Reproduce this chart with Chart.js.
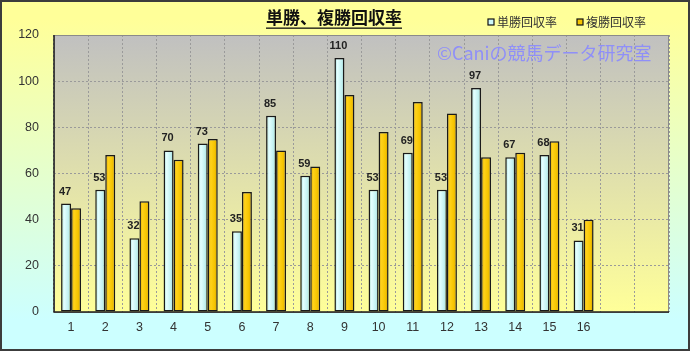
<!DOCTYPE html>
<html>
<head>
<meta charset="utf-8">
<script src="https://cdn.jsdelivr.net/npm/chart.js@4"></script>
<style>
    html, body { margin: 0; padding: 0; background: #fff; }
    .chart-box { width: 690px; height: 351px; position: relative; }
</style>
</head>
<body>
<div class="chart-box">
    <canvas id="kaishu-chart" width="690" height="351"></canvas>
</div>
<script>

// データ
const categories = ['1', '2', '3', '4', '5', '6', '7', '8', '9', '10', '11', '12', '13', '14', '15', '16', '', ''];
const tanshoValues = [47, 53, 32, 70, 73, 35, 85, 59, 110, 53, 69, 53, 97, 67, 68, 31];
const fukushoValues = [45, 68, 48, 66, 75, 52, 70, 63, 94, 78, 91, 86, 67, 69, 74, 40];
const yTicks = [0, 20, 40, 60, 80, 100, 120];
const seriesNames = ['単勝回収率', '複勝回収率'];
const chartTitle = '単勝、複勝回収率';
const watermark = '©Caniの競馬データ研究室';

const jpFont = '"Noto Sans CJK JP", "Noto Sans", sans-serif',
    numFont = '"Liberation Sans", Arial, sans-serif';

const ctx = document.querySelector('#kaishu-chart');

// 背景、枠、タイトル、凡例、ラベル
const decorPlugin = {
    id: 'decor',
    beforeDraw(chart) {
        const c = chart.ctx,
            area = chart.chartArea;

        let bg = c.createLinearGradient(0, 20, 0, 320);
        bg.addColorStop(0, '#ffff99');
        bg.addColorStop(1, '#ccffff');
        c.save();
        c.fillStyle = bg;
        c.fillRect(0, 0, chart.width, chart.height);

        let plotBg = c.createLinearGradient(0, area.top, 0, area.bottom);
        plotBg.addColorStop(0, '#c0c0c0');
        plotBg.addColorStop(1, '#ffff99');
        c.fillStyle = plotBg;
        c.fillRect(area.left, area.top, area.right - area.left, area.bottom - area.top);
        c.restore();
    },
    beforeDatasetsDraw(chart) {
        const c = chart.ctx,
            area = chart.chartArea;

        c.save();
        c.strokeStyle = '#8a8a8a';
        c.lineWidth = 1;
        c.strokeRect(area.left + 0.5, area.top + 0.5, area.right - area.left - 1, area.bottom - area.top);

        // 軸線
        c.strokeStyle = '#222';
        c.lineWidth = 1.5;
        c.beginPath();
        c.moveTo(area.left, area.top);
        c.lineTo(area.left, area.bottom);
        c.lineTo(area.right, area.bottom);
        c.stroke();

        // 透かし文字
        c.font = '18px ' + jpFont;
        c.fillStyle = '#8f8ff8';
        c.textBaseline = 'middle';
        c.textAlign = 'left';
        c.fillText(watermark, 437, 53);
        c.restore();

        // 棒のグラデーション
        const shades = [
            ['#9ad8d8', '#e4ffff', '#c4f2f2', '#9ed8d8'],
            ['#d9a200', '#ffd21a', '#f5c400', '#d09a00'],
        ];
        chart.data.datasets.forEach((ds, i) => {
            chart.getDatasetMeta(i).data.forEach(bar => {
                const g = c.createLinearGradient(bar.x - bar.width / 2, 0, bar.x + bar.width / 2, 0);
                g.addColorStop(0, shades[i][0]);
                g.addColorStop(0.3, shades[i][1]);
                g.addColorStop(0.7, shades[i][2]);
                g.addColorStop(1, shades[i][3]);
                bar.options = Object.assign({}, bar.options, { backgroundColor: g });
            });
        });
    },
    afterDatasetsDraw(chart) {
        const c = chart.ctx;

        // 単勝の値ラベル
        c.save();
        c.font = 'bold 11px ' + numFont;
        c.fillStyle = '#222';
        c.textAlign = 'center';
        c.textBaseline = 'middle';
        chart.getDatasetMeta(0).data.forEach((bar, i) => {
            c.fillText(String(tanshoValues[i]), bar.x - 1, bar.y - 12);
        });
        c.restore();
    },
    afterDraw(chart) {
        const c = chart.ctx;

        c.save();
        // タイトル
        c.font = 'bold 17px ' + jpFont;
        c.fillStyle = '#111';
        c.textAlign = 'center';
        c.textBaseline = 'middle';
        c.fillText(chartTitle, 334, 18);
        const w = c.measureText(chartTitle).width;
        c.fillRect(334 - w / 2, 27.5, w, 1.3);

        // 凡例
        c.font = '12px ' + jpFont;
        c.textAlign = 'left';
        const legendX = [488, 577],
            legendColors = ['#ccf8f8', '#f5c400'];
        legendX.forEach((x, i) => {
            c.fillStyle = legendColors[i];
            c.fillRect(x, 19, 6, 6);
            c.strokeStyle = '#111';
            c.lineWidth = 1.2;
            c.strokeRect(x, 19, 6, 6);
            c.fillStyle = '#333';
            c.fillText(seriesNames[i], x + 9, 22);
        });

        // 外枠
        c.strokeStyle = '#3c3c3c';
        c.lineWidth = 2;
        c.strokeRect(1, 1, chart.width - 2, chart.height - 2);
        c.restore();
    }
};

try {
    const chart = new Chart(ctx.getContext('2d'), {
        type: 'bar',
        data: {
            labels: categories,
            datasets: [
                {
                    label: seriesNames[0],
                    data: tanshoValues,
                    backgroundColor: '#ccf8f8',
                    borderColor: '#1a1a1a',
                    borderWidth: 1.5,
                    borderSkipped: false,
                },
                {
                    label: seriesNames[1],
                    data: fukushoValues,
                    backgroundColor: '#f5c400',
                    borderColor: '#1a1a1a',
                    borderWidth: 1.5,
                    borderSkipped: false,
                },
            ]
        },
        options: {
            responsive: false,
            animation: false,
            categoryPercentage: 0.585,
            barPercentage: 1,
            layout: {
                padding: { top: 35, right: 21, left: 0, bottom: 0 }
            },
            scales: {
                x: {
                    grid: {
                        color: '#9a9a9a',
                        drawTicks: false,
                    },
                    border: { display: false, dash: [2, 2] },
                    ticks: {
                        color: '#333',
                        padding: 8,
                        maxRotation: 0,
                        font: { size: 12.5, family: numFont },
                    },
                    afterFit(scale) { scale.height = 39; }
                },
                y: {
                    min: 0,
                    max: 120,
                    afterBuildTicks(scale) {
                        scale.ticks = yTicks.map(v => ({ value: v }));
                    },
                    grid: {
                        color: '#9a9a9a',
                        drawTicks: false,
                    },
                    border: { display: false, dash: [2, 2] },
                    ticks: {
                        color: '#333',
                        padding: 15,
                        font: { size: 12.5, family: numFont },
                    },
                    afterFit(scale) { scale.width = 54; }
                },
            },
            plugins: {
                legend: { display: false },
                title: { display: false },
                tooltip: { enabled: false },
            }
        },
        plugins: [decorPlugin]
    });
} catch (e) {
    console.error(e);
}

</script>
</body>
</html>
